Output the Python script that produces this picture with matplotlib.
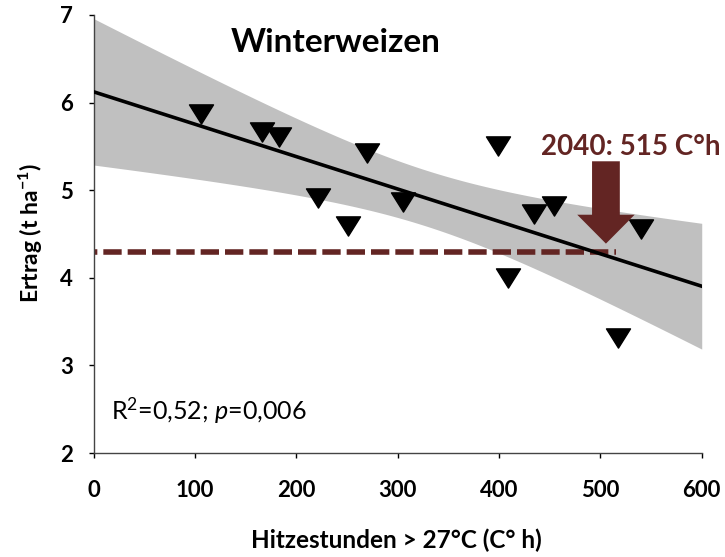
import matplotlib
matplotlib.use('Agg')
import matplotlib.pyplot as plt
import numpy as np
from matplotlib.path import Path

plt.rcParams['font.family'] = ['Lato', 'DejaVu Sans']
plt.rcParams['mathtext.fontset'] = 'custom'
plt.rcParams['mathtext.rm'] = 'Lato'
plt.rcParams['mathtext.it'] = 'Lato:italic'
plt.rcParams['mathtext.bf'] = 'Lato:bold'

# Daten
hitze = np.array([106.5, 166, 183, 221, 251, 270, 305.5, 398.6, 409, 435, 453.8, 517, 540])
ertrag = np.array([5.865, 5.66, 5.605, 4.91, 4.59, 5.43, 4.87, 5.51, 4.00, 4.73, 4.82, 3.31, 4.56])
ertrag_2040 = 4.3
hitze_2040 = 515
xticks = [0, 100, 200, 300, 400, 500, 600]
yticks = [2, 3, 4, 5, 6, 7]

dunkelrot = '#632523'

fig = plt.figure(figsize=(7.25, 5.57), dpi=100)
ax = fig.add_axes([0.129, 0.1867, 0.8389, 0.7864])

ax.spines['top'].set_visible(False)
ax.spines['right'].set_visible(False)
for sp in ['left', 'bottom']:
    ax.spines[sp].set_color('#444444')
    ax.spines[sp].set_linewidth(1)

# Regression + 95%-Konfidenzband
n = len(hitze)
b, a = np.polyfit(hitze, ertrag, 1)
xs = np.linspace(0, 600, 200)
fit = a + b * xs
resid = ertrag - (a + b * hitze)
s = np.sqrt(np.sum(resid ** 2) / (n - 2))
sxx = np.sum((hitze - hitze.mean()) ** 2)
t = 2.201  # t(0.975, 11)
halb = t * s * np.sqrt(1 / n + (xs - hitze.mean()) ** 2 / sxx)
ax.fill_between(xs, fit - halb, fit + halb, color='#c0c0c0', lw=0, zorder=1)
ax.plot(xs, fit, color='black', lw=2.6, zorder=3)

# Punkte
tri = Path([(-1, 0.8), (1, 0.8), (0, -0.8), (-1, 0.8)],
           [Path.MOVETO, Path.LINETO, Path.LINETO, Path.CLOSEPOLY])
ax.plot(hitze, ertrag, ls='none', marker=tri, ms=17.3, color='black', zorder=4)

# 2040 Linie und Pfeil
ax.hlines(ertrag_2040, 0, hitze_2040, colors=dunkelrot, lw=4,
          linestyles=[(2.7, (3.3, 1.08))], zorder=2)
ax.arrow(505.5, 5.33, 0, 4.39 - 5.33, width=27.4, head_width=56.6,
         head_length=0.33, length_includes_head=True, color=dunkelrot,
         lw=0, zorder=5)
ax.text(441.5, 5.40, '2040: 515 C°h', color=dunkelrot, fontsize=20,
        fontweight='bold', ha='left', va='baseline', clip_on=False)

ax.text(239, 6.578, 'Winterweizen', fontsize=24, fontweight='bold',
        ha='center', va='baseline')
ax.text(17, 2.377, 'R$^2$=0,52; $p$=0,006', fontsize=18, ha='left', va='baseline')

ax.set_xlim(0, 600)
ax.set_ylim(2, 7)
ax.set_xticks(xticks)
ax.set_yticks(yticks)
ax.tick_params(axis='both', direction='out', length=3.6, width=1, labelsize=16)
ax.tick_params(axis='x', pad=16)
ax.tick_params(axis='y', pad=11)

ax.set_xlabel('Hitzestunden > 27°C (C° h)', fontsize=17.5, fontweight='bold')
ax.set_ylabel('Ertrag (t ha$^{\\mathbf{-1}}$)', fontsize=16.5, fontweight='bold')
ax.xaxis.label.set_va('center')
ax.yaxis.label.set_va('center')
ax.xaxis.set_label_coords(0.498, -0.199)
ax.yaxis.set_label_coords(-0.103, 0.502)

fig.canvas.draw()
for lab in ax.get_xticklabels() + ax.get_yticklabels():
    lab.set_fontweight('bold')

fig.savefig('out.png', dpi=100)
